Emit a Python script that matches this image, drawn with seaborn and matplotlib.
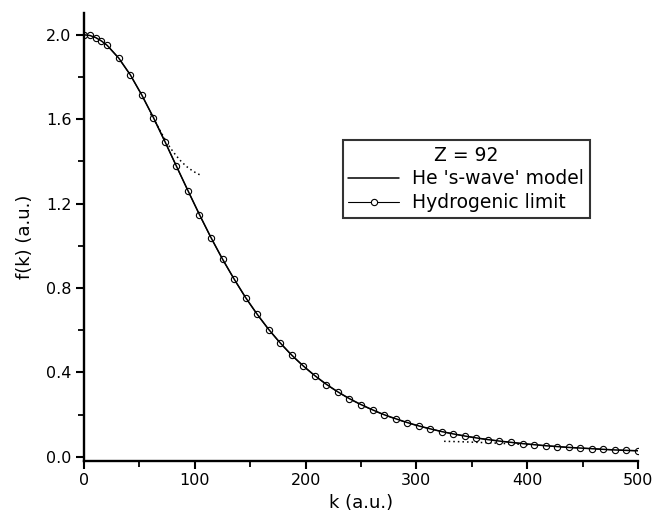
import pandas as pd
import matplotlib
matplotlib.use('Agg')
import matplotlib.pyplot as plt
import seaborn as sns

# grid of k values (a.u.)
k_vals = [0.0, 5.21, 10.42, 15.63, 20.83, 31.25, 41.67, 52.08, 62.5, 72.92,
          83.33, 93.75, 104.17, 114.58, 125.0, 135.42, 145.83, 156.25, 166.67, 177.08,
          187.5, 197.92, 208.33, 218.75, 229.17, 239.58, 250.0, 260.42, 270.83, 281.25,
          291.67, 302.08, 312.5, 322.92, 333.33, 343.75, 354.17, 364.58, 375.0, 385.42,
          395.83, 406.25, 416.67, 427.08, 437.5, 447.92, 458.33, 468.75, 479.17, 489.58,
          500.0]

# hydrogenic limit (open circles)
f_hydro = [2.000, 1.997, 1.987, 1.971, 1.950, 1.889, 1.810, 1.714, 1.608, 1.494,
           1.377, 1.261, 1.147, 1.038, 0.936, 0.842, 0.754, 0.675, 0.603, 0.539,
           0.481, 0.430, 0.384, 0.343, 0.307, 0.275, 0.247, 0.222, 0.199, 0.180,
           0.162, 0.146, 0.133, 0.120, 0.109, 0.099, 0.090, 0.082, 0.075, 0.069,
           0.063, 0.058, 0.053, 0.049, 0.045, 0.042, 0.039, 0.036, 0.033, 0.031,
           0.029]

# He 's-wave' model (solid line, on top of the hydrogenic points)
f_he = [2.000, 1.997, 1.987, 1.971, 1.950, 1.890, 1.811, 1.715, 1.609, 1.495,
        1.378, 1.262, 1.148, 1.039, 0.937, 0.843, 0.755, 0.676, 0.604, 0.540,
        0.482, 0.431, 0.385, 0.344, 0.308, 0.276, 0.248, 0.223, 0.200, 0.181,
        0.163, 0.147, 0.133, 0.120, 0.109, 0.099, 0.090, 0.082, 0.075, 0.069,
        0.063, 0.058, 0.053, 0.049, 0.045, 0.042, 0.039, 0.036, 0.033, 0.031,
        0.029]

# dotted approximations (small-k and large-k)
k_small = [60, 64, 68, 73, 78, 83, 88, 93, 98, 102, 106]
f_small = [1.625, 1.590, 1.552, 1.505, 1.463, 1.428, 1.398, 1.374, 1.355, 1.343, 1.333]
k_large = [325, 340, 355, 370, 385, 400, 410]
f_large = [0.074, 0.072, 0.069, 0.066, 0.062, 0.058, 0.056]

df = pd.DataFrame({'k': k_vals, 'hydro': f_hydro, 'he': f_he})
df_small = pd.DataFrame({'k': k_small, 'f': f_small})
df_large = pd.DataFrame({'k': k_large, 'f': f_large})

sns.set_style('ticks')
plt.rcParams['font.family'] = ['DejaVu Sans']
for key in ['text.color', 'axes.labelcolor', 'xtick.color', 'ytick.color', 'axes.edgecolor']:
    plt.rcParams[key] = 'black'

fig, ax = plt.subplots(figsize=(6.57, 5.15), dpi=100)
fig.subplots_adjust(left=0.128, right=0.971, bottom=0.105, top=0.975)

sns.lineplot(data=df_small, x='k', y='f', ax=ax, color='black', lw=1.1,
             linestyle=(0, (1, 2)))
sns.lineplot(data=df_large, x='k', y='f', ax=ax, color='black', lw=1.1,
             linestyle=(0, (1, 2)))
sns.lineplot(data=df, x='k', y='hydro', ax=ax, color='black', lw=0.8,
             marker='o', markersize=4.5, markerfacecolor='white',
             markeredgecolor='black', markeredgewidth=0.8,
             label='Hydrogenic limit')
sns.lineplot(data=df, x='k', y='he', ax=ax, color='black', lw=1.1,
             label="He 's-wave' model")

ax.set_xlim(0, 500)
ax.set_ylim(-0.019, 2.104)
ax.set_xticks([0, 100, 200, 300, 400, 500])
ax.set_xticks([50, 150, 250, 350, 450], minor=True)
ax.set_yticks([0.0, 0.4, 0.8, 1.2, 1.6, 2.0])
ax.set_yticks([0.2, 0.6, 1.0, 1.4, 1.8], minor=True)
ax.set_yticklabels(['0.0', '0.4', '0.8', '1.2', '1.6', '2.0'])
ax.set_xlabel('k (a.u.)', fontsize=13, labelpad=4)
ax.set_ylabel('f(k) (a.u.)', fontsize=13, labelpad=9)

sns.despine(ax=ax)
for s in ['left', 'bottom']:
    ax.spines[s].set_linewidth(1.7)
ax.tick_params(which='major', length=6, width=1.5, labelsize=11.5, direction='out', pad=3)
ax.tick_params(which='minor', length=4, width=1.3, direction='out')

h, l = ax.get_legend_handles_labels()
leg = ax.legend(h[::-1], l[::-1], title='Z = 92', loc='upper left',
                bbox_to_anchor=(0.467, 0.716), frameon=True, fancybox=False,
                edgecolor='black', fontsize=13.5, title_fontsize=13.5,
                handlelength=2.7, borderpad=0.3, labelspacing=0.25,
                handletextpad=0.7, borderaxespad=0)
leg.get_frame().set_linewidth(1.5)

plt.savefig('out.png', dpi=100)
